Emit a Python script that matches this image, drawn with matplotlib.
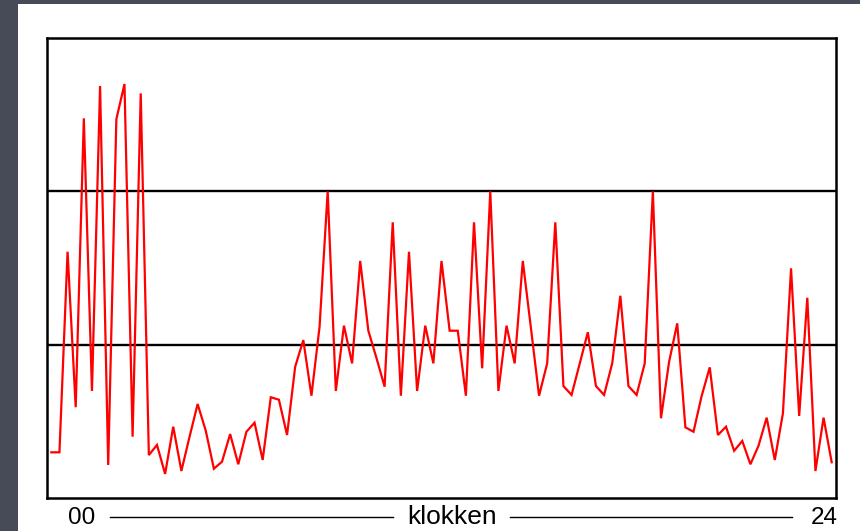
import matplotlib
matplotlib.use("Agg")
import matplotlib.pyplot as plt
from matplotlib.lines import Line2D
from matplotlib.patches import Rectangle
import numpy as np

# 15-minute slots over 24 hours (97 samples, 00:00 .. 24:00)
slots = list(range(97))
values = [
    2.98, 2.98, 16.06, 5.92, 24.76, 6.98, 26.87, 2.15, 24.70, 27.00,
    4.00, 26.39, 2.80, 3.46, 1.57, 4.65, 1.76, 3.98, 6.13, 4.39,
    1.91, 2.37, 4.17, 2.20, 4.32, 4.91, 2.48, 6.57, 6.41, 4.11,
    8.56, 10.30, 6.67, 11.17, 20.00, 6.98, 11.24, 8.78, 15.46, 10.91,
    9.13, 7.26, 17.98, 6.67, 16.06, 6.98, 11.24, 8.78, 15.46, 10.91,
    10.91, 6.67, 17.98, 8.46, 20.00, 6.98, 11.24, 8.78, 15.46, 11.09,
    6.67, 8.78, 17.98, 7.30, 6.72, 8.76, 10.81, 7.30, 6.72, 8.78,
    13.19, 7.30, 6.72, 8.78, 20.00, 5.20, 8.89, 11.39, 4.61, 4.32,
    6.65, 8.52, 4.11, 4.65, 3.08, 3.72, 2.20, 3.41, 5.24, 2.48,
    5.52, 14.98, 5.35, 13.06, 1.76, 5.24, 2.33,
]
grid_levels = [10, 20]
label_left = "00"
label_mid = "klokken"
label_right = "24"

W, H = 860, 531
fig = plt.figure(figsize=(W / 100, H / 100), dpi=100)
fig.patch.set_facecolor("white")

# dark frame strips (left and top)
frame_col = "#474a57"
fig.add_artist(Rectangle((0, 0), 18 / W, 1, transform=fig.transFigure,
                         facecolor=frame_col, edgecolor="none", zorder=0))
fig.add_artist(Rectangle((0, 1 - 4 / H), 1, 4 / H, transform=fig.transFigure,
                         facecolor=frame_col, edgecolor="none", zorder=0))

ax = fig.add_axes([47 / W, (H - 498) / H, (836 - 47) / W, (498 - 38) / H])
ax.plot(slots, values, color="#ff0000", lw=1.6, solid_joinstyle="miter", zorder=3)
for g in grid_levels:
    ax.axhline(g, color="black", lw=1.7, zorder=2)
ax.set_xlim(-0.53, 96.53)
ax.set_ylim(0, 30)
ax.set_xticks([])
ax.set_yticks([])
for s in ax.spines.values():
    s.set_color("black")
    s.set_linewidth(1.8)

fs = 17.5
fam = ["Liberation Sans", "DejaVu Sans"]
ty = 1 - 517.5 / H
fig.text(82 / W, ty, label_left, ha="center", va="center", fontsize=fs, family=fam)
fig.text(452.5 / W, ty, label_mid, ha="center", va="center", fontsize=19, family=fam)
fig.text(838 / W, ty, label_right, ha="right", va="center", fontsize=fs, family=fam)
ly = 1 - 517.3 / H
fig.add_artist(Line2D([110 / W, 393 / W], [ly, ly], transform=fig.transFigure,
                      color="black", lw=1.0))
fig.add_artist(Line2D([510 / W, 792 / W], [ly, ly], transform=fig.transFigure,
                      color="black", lw=1.0))

fig.savefig("out.png", dpi=100, facecolor=fig.get_facecolor())
